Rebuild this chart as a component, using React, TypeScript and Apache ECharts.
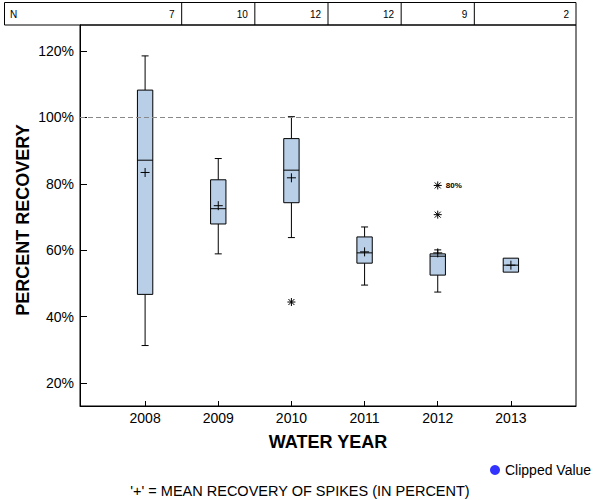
import React, { useEffect, useRef } from "react";
import * as echarts from "echarts";

const years = [2008, 2009, 2010, 2011, 2012, 2013];
const counts = [7, 10, 12, 12, 9, 2];
const whiskerLow = [31.3, 58.9, 63.8, 49.5, 47.4, 53.4];
const q1 = [46.7, 67.9, 74.3, 56.1, 52.5, 53.4];
const median = [87.1, 72.5, 84.1, 59.2, 58.2, 55.5];
const q3 = [108.2, 81.2, 93.6, 64.0, 58.9, 57.6];
const whiskerHigh = [118.5, 87.6, 100.2, 67.0, 60.1, 57.6];
const means = [83.4, 73.4, 81.8, 59.5, 59.2, 55.5];
const outlierYears = [2010, 2012, 2012];
const outlierValues = [44.4, 70.7, 79.5];
const outlierLabels = ["", "", "80%"];
const yTicks = [20, 40, 60, 80, 100, 120];
const referenceLevel = 100;

const FONT = 'Arial, "Liberation Sans", Helvetica, sans-serif';
const BOX_FILL = "#b9cfe7";

export default function App() {
  const ref = useRef<HTMLDivElement>(null);

  useEffect(() => {
    if (!ref.current) return;
    const chart = echarts.init(ref.current, undefined, { renderer: "svg" });

    const boxData = years.map((y, i) => [
      y,
      whiskerLow[i],
      q1[i],
      median[i],
      q3[i],
      whiskerHigh[i],
      means[i],
    ]);
    const outData = outlierYears.map((y, i) => [y, outlierValues[i]]);

    const line = (x1: number, y1: number, x2: number, y2: number) => ({
      type: "line",
      shape: { x1, y1, x2, y2 },
      style: { stroke: "#000", lineWidth: 1 },
    });

    const option: any = {
      animation: false,
      backgroundColor: "#fff",
      textStyle: { fontFamily: FONT },
      grid: {
        left: 80,
        right: 24,
        top: 25,
        bottom: 94,
        show: true,
        borderColor: "#000",
        borderWidth: 1,
        backgroundColor: "transparent",
      },
      legend: {
        data: [{ name: "Clipped Value", icon: "circle" }],
        left: 485,
        top: 458,
        itemWidth: 10,
        itemHeight: 10,
        textStyle: { fontSize: 14, color: "#000", fontFamily: FONT },
      },
      xAxis: {
        type: "value",
        min: 2007.11,
        max: 2013.89,
        axisLine: { show: true, lineStyle: { color: "#000" } },
        axisTick: {
          show: true,
          inside: true,
          length: 5,
          customValues: years,
          lineStyle: { color: "#000" },
        },
        axisLabel: {
          customValues: years,
          color: "#000",
          fontSize: 14,
          margin: 5,
          fontFamily: FONT,
          formatter: (v: number) => String(v),
        },
        splitLine: { show: false },
      },
      yAxis: {
        type: "value",
        min: 13.1,
        max: 127.8,
        axisLine: { show: true, lineStyle: { color: "#000" } },
        axisTick: {
          show: true,
          inside: true,
          length: 7,
          customValues: yTicks,
          lineStyle: { color: "#000" },
        },
        axisLabel: {
          customValues: yTicks,
          color: "#000",
          fontSize: 14,
          margin: 6,
          padding: [7, 0, 0, 0],
          fontFamily: FONT,
          formatter: (v: number) => v + "%",
        },
        splitLine: { show: false },
      },
      series: [
        {
          type: "custom",
          name: "boxes",
          data: boxData,
          encode: { x: 0, y: [1, 2, 3, 4, 5, 6] },
          markLine: {
            silent: true,
            symbol: "none",
            label: { show: false },
            lineStyle: { color: "#888", type: [5, 3], width: 1 },
            data: [{ yAxis: referenceLevel }],
          },
          renderItem: (params: any, api: any) => {
            const x = api.value(0);
            const cx = api.coord([x, api.value(1)])[0];
            const yLo = api.coord([x, api.value(1)])[1];
            const yQ1 = api.coord([x, api.value(2)])[1];
            const yMed = api.coord([x, api.value(3)])[1];
            const yQ3 = api.coord([x, api.value(4)])[1];
            const yHi = api.coord([x, api.value(5)])[1];
            const yMean = api.coord([x, api.value(6)])[1];
            const hw = api.size([0.105, 0])[0];
            const cap = 3.5;
            const m = 4.5;
            const children: any[] = [];
            if (yHi < yQ3 - 0.5) {
              children.push(line(cx, yQ3, cx, yHi));
              children.push(line(cx - cap, yHi, cx + cap, yHi));
            }
            if (yLo > yQ1 + 0.5) {
              children.push(line(cx, yQ1, cx, yLo));
              children.push(line(cx - cap, yLo, cx + cap, yLo));
            }
            children.push({
              type: "rect",
              shape: { x: cx - hw, y: yQ3, width: hw * 2, height: yQ1 - yQ3 },
              style: { fill: BOX_FILL, stroke: "#000", lineWidth: 1 },
            });
            children.push(line(cx - hw, yMed, cx + hw, yMed));
            children.push(line(cx - m, yMean, cx + m, yMean));
            children.push(line(cx, yMean - m, cx, yMean + m));
            return { type: "group", children };
          },
        },
        {
          type: "custom",
          name: "outliers",
          data: outData,
          encode: { x: 0, y: 1 },
          renderItem: (params: any, api: any) => {
            const p = api.coord([api.value(0), api.value(1)]);
            const a = 4;
            const d = 3;
            const children: any[] = [
              line(p[0], p[1] - a, p[0], p[1] + a),
              line(p[0] - a, p[1], p[0] + a, p[1]),
              line(p[0] - d, p[1] - d, p[0] + d, p[1] + d),
              line(p[0] - d, p[1] + d, p[0] + d, p[1] - d),
            ];
            const lbl = outlierLabels[params.dataIndex];
            if (lbl) {
              children.push({
                type: "text",
                style: {
                  text: lbl,
                  x: p[0] + 8,
                  y: p[1],
                  align: "left",
                  verticalAlign: "middle",
                  fill: "#000",
                  font: "bold 8px " + FONT,
                },
              });
            }
            return { type: "group", children };
          },
        },
        {
          type: "scatter",
          name: "Clipped Value",
          data: [],
          itemStyle: { color: "#0000ff" },
        },
      ],
    };

    chart.setOption(option);

    // N table across the top, aligned to the x axis scale
    const px = (v: number) => chart.convertToPixel({ xAxisIndex: 0 }, v) as number;
    const tableLeft = 4.5;
    const tableTop = 2.5;
    const tableBottom = 25;
    const tableRight = px(2013.89);
    const graphics: any[] = [
      {
        type: "rect",
        shape: {
          x: tableLeft,
          y: tableTop,
          width: tableRight - tableLeft,
          height: tableBottom - tableTop,
        },
        style: { fill: "none", stroke: "#000", lineWidth: 1 },
      },
      {
        type: "text",
        style: {
          text: "N",
          x: 10,
          y: (tableTop + tableBottom) / 2 + 1,
          align: "left",
          verticalAlign: "middle",
          font: "10px " + FONT,
          fill: "#000",
        },
      },
    ];
    years.forEach((y, i) => {
      const right = i < years.length - 1 ? px(y + 0.5) : tableRight;
      if (i < years.length - 1) {
        graphics.push({
          type: "line",
          shape: { x1: right, y1: tableTop, x2: right, y2: tableBottom },
          style: { stroke: "#000", lineWidth: 1 },
        });
      }
      graphics.push({
        type: "text",
        style: {
          text: String(counts[i]),
          x: right - 7,
          y: (tableTop + tableBottom) / 2 + 1,
          align: "right",
          verticalAlign: "middle",
          font: "10px " + FONT,
          fill: "#000",
        },
      });
    });
    graphics.push(
      {
        type: "text",
        x: 23,
        y: 220,
        rotation: Math.PI / 2,
        style: {
          text: "PERCENT RECOVERY",
          x: 0,
          y: 0,
          align: "center",
          verticalAlign: "middle",
          font: "bold 18px " + FONT,
          fill: "#000",
        },
      },
      {
        type: "text",
        style: {
          text: "WATER YEAR",
          x: px(2010.5),
          y: 442,
          align: "center",
          verticalAlign: "middle",
          font: "bold 18px " + FONT,
          fill: "#000",
        },
      },
      {
        type: "text",
        style: {
          text: "'+' = MEAN RECOVERY OF SPIKES (IN PERCENT)",
          x: 300,
          y: 491,
          align: "center",
          verticalAlign: "middle",
          font: "14.5px " + FONT,
          fill: "#000",
        },
      }
    );
    chart.setOption({ graphic: graphics });

    return () => chart.dispose();
  }, []);

  return (
    <div
      ref={ref}
      style={{ position: "fixed", left: 0, top: 0, width: 600, height: 500 }}
    />
  );
}
